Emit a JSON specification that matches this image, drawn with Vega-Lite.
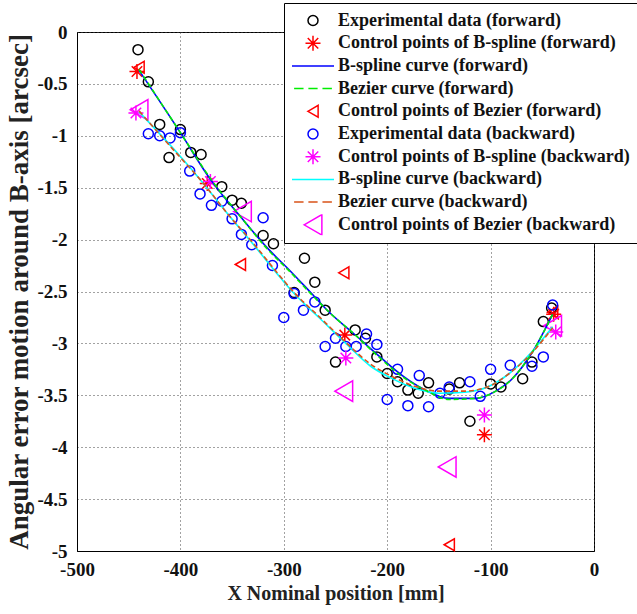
{
  "$schema": "https://vega.github.io/schema/vega-lite/v6.json",
  "width": 517,
  "height": 519,
  "autosize": "none",
  "padding": {"left": 77, "top": 32, "right": 43, "bottom": 63},
  "background": "white",
  "config": {
    "view": {"stroke": "#000", "strokeWidth": 1},
    "axis": {
      "labelFont": "Liberation Serif", "labelFontWeight": "bold", "labelFontSize": 19, "labelColor": "#111",
      "titleFont": "Liberation Serif", "titleFontWeight": "bold", "titleFontSize": 20, "titleColor": "#222",
      "grid": true, "gridColor": "#444", "gridDash": [1, 3], "gridWidth": 1,
      "ticks": false, "domainColor": "#000", "labelFlush": false
    }
  },
  "datasets": {
    "pts": [
      {"series": "Experimental data (forward)", "x": -441, "y": -0.17},
      {"series": "Experimental data (forward)", "x": -431, "y": -0.48},
      {"series": "Experimental data (forward)", "x": -420, "y": -0.89},
      {"series": "Experimental data (forward)", "x": -411, "y": -1.21},
      {"series": "Experimental data (forward)", "x": -400, "y": -0.94},
      {"series": "Experimental data (forward)", "x": -390, "y": -1.16},
      {"series": "Experimental data (forward)", "x": -380, "y": -1.18},
      {"series": "Experimental data (forward)", "x": -360, "y": -1.49},
      {"series": "Experimental data (forward)", "x": -350, "y": -1.62},
      {"series": "Experimental data (forward)", "x": -341, "y": -1.65},
      {"series": "Experimental data (forward)", "x": -320, "y": -1.96},
      {"series": "Experimental data (forward)", "x": -310, "y": -2.04},
      {"series": "Experimental data (forward)", "x": -280, "y": -2.18},
      {"series": "Experimental data (forward)", "x": -270, "y": -2.41},
      {"series": "Experimental data (forward)", "x": -290, "y": -2.51},
      {"series": "Experimental data (forward)", "x": -260, "y": -2.68},
      {"series": "Experimental data (forward)", "x": -231, "y": -2.87},
      {"series": "Experimental data (forward)", "x": -221, "y": -2.95},
      {"series": "Experimental data (forward)", "x": -250, "y": -3.18},
      {"series": "Experimental data (forward)", "x": -210, "y": -3.13},
      {"series": "Experimental data (forward)", "x": -200, "y": -3.29},
      {"series": "Experimental data (forward)", "x": -190, "y": -3.37},
      {"series": "Experimental data (forward)", "x": -180, "y": -3.45},
      {"series": "Experimental data (forward)", "x": -170, "y": -3.48},
      {"series": "Experimental data (forward)", "x": -160, "y": -3.38},
      {"series": "Experimental data (forward)", "x": -140, "y": -3.44},
      {"series": "Experimental data (forward)", "x": -130, "y": -3.38},
      {"series": "Experimental data (forward)", "x": -120, "y": -3.75},
      {"series": "Experimental data (forward)", "x": -100, "y": -3.39},
      {"series": "Experimental data (forward)", "x": -90, "y": -3.42},
      {"series": "Experimental data (forward)", "x": -69, "y": -3.34},
      {"series": "Experimental data (forward)", "x": -60, "y": -3.18},
      {"series": "Experimental data (forward)", "x": -49, "y": -2.79},
      {"series": "Experimental data (forward)", "x": -41, "y": -2.66},
      {"series": "Control points of B-spline (forward)", "x": -442, "y": -0.38},
      {"series": "Control points of B-spline (forward)", "x": -374, "y": -1.46},
      {"series": "Control points of B-spline (forward)", "x": -241, "y": -2.92},
      {"series": "Control points of B-spline (forward)", "x": -106, "y": -3.88},
      {"series": "Control points of B-spline (forward)", "x": -39, "y": -2.72},
      {"series": "Control points of Bezier (forward)", "x": -440, "y": -0.34},
      {"series": "Control points of Bezier (forward)", "x": -342, "y": -2.24},
      {"series": "Control points of Bezier (forward)", "x": -242, "y": -2.32},
      {"series": "Control points of Bezier (forward)", "x": -140, "y": -4.94},
      {"series": "Control points of Bezier (forward)", "x": -40, "y": -2.7},
      {"series": "Experimental data (backward)", "x": -431, "y": -0.98},
      {"series": "Experimental data (backward)", "x": -420, "y": -1.0},
      {"series": "Experimental data (backward)", "x": -410, "y": -1.02},
      {"series": "Experimental data (backward)", "x": -400, "y": -0.97},
      {"series": "Experimental data (backward)", "x": -391, "y": -1.34},
      {"series": "Experimental data (backward)", "x": -381, "y": -1.56},
      {"series": "Experimental data (backward)", "x": -370, "y": -1.67},
      {"series": "Experimental data (backward)", "x": -360, "y": -1.63},
      {"series": "Experimental data (backward)", "x": -350, "y": -1.8},
      {"series": "Experimental data (backward)", "x": -341, "y": -1.95},
      {"series": "Experimental data (backward)", "x": -331, "y": -2.05},
      {"series": "Experimental data (backward)", "x": -320, "y": -1.79},
      {"series": "Experimental data (backward)", "x": -311, "y": -2.25},
      {"series": "Experimental data (backward)", "x": -300, "y": -2.75},
      {"series": "Experimental data (backward)", "x": -290, "y": -2.52},
      {"series": "Experimental data (backward)", "x": -281, "y": -2.68},
      {"series": "Experimental data (backward)", "x": -270, "y": -2.6},
      {"series": "Experimental data (backward)", "x": -260, "y": -3.03},
      {"series": "Experimental data (backward)", "x": -250, "y": -2.95},
      {"series": "Experimental data (backward)", "x": -240, "y": -3.03},
      {"series": "Experimental data (backward)", "x": -230, "y": -3.03},
      {"series": "Experimental data (backward)", "x": -220, "y": -2.91},
      {"series": "Experimental data (backward)", "x": -210, "y": -3.01},
      {"series": "Experimental data (backward)", "x": -190, "y": -3.25},
      {"series": "Experimental data (backward)", "x": -200, "y": -3.54},
      {"series": "Experimental data (backward)", "x": -180, "y": -3.6},
      {"series": "Experimental data (backward)", "x": -169, "y": -3.31},
      {"series": "Experimental data (backward)", "x": -160, "y": -3.61},
      {"series": "Experimental data (backward)", "x": -149, "y": -3.48},
      {"series": "Experimental data (backward)", "x": -140, "y": -3.42},
      {"series": "Experimental data (backward)", "x": -120, "y": -3.37},
      {"series": "Experimental data (backward)", "x": -110, "y": -3.51},
      {"series": "Experimental data (backward)", "x": -100, "y": -3.25},
      {"series": "Experimental data (backward)", "x": -81, "y": -3.21},
      {"series": "Experimental data (backward)", "x": -60, "y": -3.22},
      {"series": "Experimental data (backward)", "x": -49, "y": -3.13},
      {"series": "Experimental data (backward)", "x": -40, "y": -2.63},
      {"series": "Control points of B-spline (backward)", "x": -443, "y": -0.78},
      {"series": "Control points of B-spline (backward)", "x": -371, "y": -1.44},
      {"series": "Control points of B-spline (backward)", "x": -240, "y": -3.14},
      {"series": "Control points of B-spline (backward)", "x": -106, "y": -3.69},
      {"series": "Control points of B-spline (backward)", "x": -37, "y": -2.89},
      {"series": "Control points of Bezier (backward)", "x": -440, "y": -0.75},
      {"series": "Control points of Bezier (backward)", "x": -340, "y": -1.73},
      {"series": "Control points of Bezier (backward)", "x": -242, "y": -3.46},
      {"series": "Control points of Bezier (backward)", "x": -142, "y": -4.19},
      {"series": "Control points of Bezier (backward)", "x": -40, "y": -2.83}
    ],
    "curves": [
      {"series": "B-spline curve (forward)", "x": -440, "y": -0.37},
      {"series": "B-spline curve (forward)", "x": -400, "y": -0.97},
      {"series": "B-spline curve (forward)", "x": -371, "y": -1.42},
      {"series": "B-spline curve (forward)", "x": -341, "y": -1.79},
      {"series": "B-spline curve (forward)", "x": -316, "y": -2.08},
      {"series": "B-spline curve (forward)", "x": -294, "y": -2.3},
      {"series": "B-spline curve (forward)", "x": -274, "y": -2.51},
      {"series": "B-spline curve (forward)", "x": -255, "y": -2.71},
      {"series": "B-spline curve (forward)", "x": -233, "y": -2.9},
      {"series": "B-spline curve (forward)", "x": -207, "y": -3.13},
      {"series": "B-spline curve (forward)", "x": -184, "y": -3.32},
      {"series": "B-spline curve (forward)", "x": -165, "y": -3.44},
      {"series": "B-spline curve (forward)", "x": -140, "y": -3.53},
      {"series": "B-spline curve (forward)", "x": -115, "y": -3.53},
      {"series": "B-spline curve (forward)", "x": -95, "y": -3.46},
      {"series": "B-spline curve (forward)", "x": -80, "y": -3.35},
      {"series": "B-spline curve (forward)", "x": -60, "y": -3.09},
      {"series": "B-spline curve (forward)", "x": -40, "y": -2.72},
      {"series": "Bezier curve (forward)", "x": -440, "y": -0.36},
      {"series": "Bezier curve (forward)", "x": -400, "y": -0.97},
      {"series": "Bezier curve (forward)", "x": -371, "y": -1.41},
      {"series": "Bezier curve (forward)", "x": -341, "y": -1.79},
      {"series": "Bezier curve (forward)", "x": -316, "y": -2.09},
      {"series": "Bezier curve (forward)", "x": -294, "y": -2.31},
      {"series": "Bezier curve (forward)", "x": -274, "y": -2.52},
      {"series": "Bezier curve (forward)", "x": -255, "y": -2.71},
      {"series": "Bezier curve (forward)", "x": -233, "y": -2.9},
      {"series": "Bezier curve (forward)", "x": -207, "y": -3.14},
      {"series": "Bezier curve (forward)", "x": -184, "y": -3.33},
      {"series": "Bezier curve (forward)", "x": -165, "y": -3.44},
      {"series": "Bezier curve (forward)", "x": -140, "y": -3.54},
      {"series": "Bezier curve (forward)", "x": -115, "y": -3.53},
      {"series": "Bezier curve (forward)", "x": -95, "y": -3.46},
      {"series": "Bezier curve (forward)", "x": -80, "y": -3.35},
      {"series": "Bezier curve (forward)", "x": -60, "y": -3.09},
      {"series": "Bezier curve (forward)", "x": -40, "y": -2.72},
      {"series": "B-spline curve (backward)", "x": -440, "y": -0.77},
      {"series": "B-spline curve (backward)", "x": -400, "y": -1.2},
      {"series": "B-spline curve (backward)", "x": -381, "y": -1.42},
      {"series": "B-spline curve (backward)", "x": -352, "y": -1.78},
      {"series": "B-spline curve (backward)", "x": -330, "y": -2.04},
      {"series": "B-spline curve (backward)", "x": -303, "y": -2.37},
      {"series": "B-spline curve (backward)", "x": -290, "y": -2.52},
      {"series": "B-spline curve (backward)", "x": -265, "y": -2.76},
      {"series": "B-spline curve (backward)", "x": -239, "y": -3.01},
      {"series": "B-spline curve (backward)", "x": -216, "y": -3.22},
      {"series": "B-spline curve (backward)", "x": -197, "y": -3.33},
      {"series": "B-spline curve (backward)", "x": -171, "y": -3.44},
      {"series": "B-spline curve (backward)", "x": -150, "y": -3.48},
      {"series": "B-spline curve (backward)", "x": -125, "y": -3.47},
      {"series": "B-spline curve (backward)", "x": -103, "y": -3.42},
      {"series": "B-spline curve (backward)", "x": -82, "y": -3.29},
      {"series": "B-spline curve (backward)", "x": -60, "y": -3.08},
      {"series": "B-spline curve (backward)", "x": -40, "y": -2.84},
      {"series": "Bezier curve (backward)", "x": -440, "y": -0.76},
      {"series": "Bezier curve (backward)", "x": -400, "y": -1.21},
      {"series": "Bezier curve (backward)", "x": -381, "y": -1.42},
      {"series": "Bezier curve (backward)", "x": -352, "y": -1.78},
      {"series": "Bezier curve (backward)", "x": -330, "y": -2.03},
      {"series": "Bezier curve (backward)", "x": -303, "y": -2.36},
      {"series": "Bezier curve (backward)", "x": -290, "y": -2.51},
      {"series": "Bezier curve (backward)", "x": -265, "y": -2.75},
      {"series": "Bezier curve (backward)", "x": -239, "y": -3.0},
      {"series": "Bezier curve (backward)", "x": -216, "y": -3.2},
      {"series": "Bezier curve (backward)", "x": -197, "y": -3.31},
      {"series": "Bezier curve (backward)", "x": -171, "y": -3.42},
      {"series": "Bezier curve (backward)", "x": -150, "y": -3.46},
      {"series": "Bezier curve (backward)", "x": -125, "y": -3.46},
      {"series": "Bezier curve (backward)", "x": -103, "y": -3.42},
      {"series": "Bezier curve (backward)", "x": -82, "y": -3.29},
      {"series": "Bezier curve (backward)", "x": -60, "y": -3.09},
      {"series": "Bezier curve (backward)", "x": -40, "y": -2.85}
    ]
  },
  "layer": [
    {
      "data": {"name": "pts"},
      "mark": {"type": "point", "filled": false, "opacity": 1, "strokeWidth": 1.5},
      "encoding": {
        "x": {"field": "x", "type": "quantitative", "scale": {"domain": [-500, 0], "nice": false},
              "axis": {"title": "X Nominal position [mm]", "values": [-500, -400, -300, -200, -100, 0], "labelPadding": 9, "titlePadding": 4,
                       "labelExpr": "datum.value == 0 ? '0' : '-' + format(-datum.value, '~g')"}},
        "y": {"field": "y", "type": "quantitative", "scale": {"domain": [-5, 0], "nice": false},
              "axis": {"title": "Angular error motion around B-axis [arcsec]", "titleFontSize": 27, "values": [-5, -4.5, -4, -3.5, -3, -2.5, -2, -1.5, -1, -0.5, 0], "labelPadding": 10, "titlePadding": 3,
                       "labelExpr": "datum.value == 0 ? '0' : '-' + format(-datum.value, '~g')"}},
        "color": {"field": "series", "type": "nominal",
          "scale": {"domain": ["Experimental data (forward)", "Control points of B-spline (forward)", "B-spline curve (forward)", "Bezier curve (forward)", "Control points of Bezier (forward)", "Experimental data (backward)", "Control points of B-spline (backward)", "B-spline curve (backward)", "Bezier curve (backward)", "Control points of Bezier (backward)"],
                    "range": ["#000000", "#ff0000", "#0000ff", "#00ee00", "#ff0000", "#0000ff", "#ff00ff", "#00ffff", "#d95319", "#ff00ff"]},
          "legend": {"orient": "none", "legendX": 207, "legendY": -29, "title": null,
            "fillColor": "white", "strokeColor": "#000", "padding": 7,
            "labelFont": "Liberation Serif", "labelFontWeight": "bold", "labelFontSize": 18, "labelColor": "#111", "labelLimit": 500,
            "labelOffset": 3, "clipHeight": 21, "rowPadding": 1.7, "symbolStrokeWidth": 1.5}},
        "shape": {"field": "series", "type": "nominal",
          "scale": {"domain": ["Experimental data (forward)", "Control points of B-spline (forward)", "B-spline curve (forward)", "Bezier curve (forward)", "Control points of Bezier (forward)", "Experimental data (backward)", "Control points of B-spline (backward)", "B-spline curve (backward)", "Bezier curve (backward)", "Control points of Bezier (backward)"],
                    "range": ["circle", "M0,-1V1M-1,0H1M-0.7,-0.7L0.7,0.7M-0.7,0.7L0.7,-0.7", "stroke", "M-0.9,0H-0.45M-0.22,0H0.22M0.45,0H0.9", "triangle-left", "circle", "M0,-1V1M-1,0H1M-0.7,-0.7L0.7,0.7M-0.7,0.7L0.7,-0.7", "stroke", "M-0.9,0H-0.45M-0.22,0H0.22M0.45,0H0.9", "triangle-left"]}},
        "size": {"field": "series", "type": "nominal",
          "scale": {"type": "ordinal", "domain": ["Experimental data (forward)", "Control points of B-spline (forward)", "B-spline curve (forward)", "Bezier curve (forward)", "Control points of Bezier (forward)", "Experimental data (backward)", "Control points of B-spline (backward)", "B-spline curve (backward)", "Bezier curve (backward)", "Control points of Bezier (backward)"],
                    "range": [100, 225, 1764, 1764, 140, 100, 225, 1764, 1764, 420]}}
      }
    },
    {
      "data": {"name": "curves"},
      "transform": [{"filter": "indexof(datum.series, 'B-spline curve') === 0"}],
      "mark": {"type": "line", "strokeWidth": 1.6, "interpolate": "monotone"},
      "encoding": {
        "x": {"field": "x", "type": "quantitative"},
        "y": {"field": "y", "type": "quantitative"},
        "color": {"field": "series", "type": "nominal", "legend": null}
      }
    },
    {
      "data": {"name": "curves"},
      "transform": [{"filter": "indexof(datum.series, 'Bezier curve') === 0"}],
      "mark": {"type": "line", "strokeWidth": 1.6, "strokeDash": [5, 3], "interpolate": "monotone"},
      "encoding": {
        "x": {"field": "x", "type": "quantitative"},
        "y": {"field": "y", "type": "quantitative"},
        "color": {"field": "series", "type": "nominal", "legend": null}
      }
    }
  ]
}
